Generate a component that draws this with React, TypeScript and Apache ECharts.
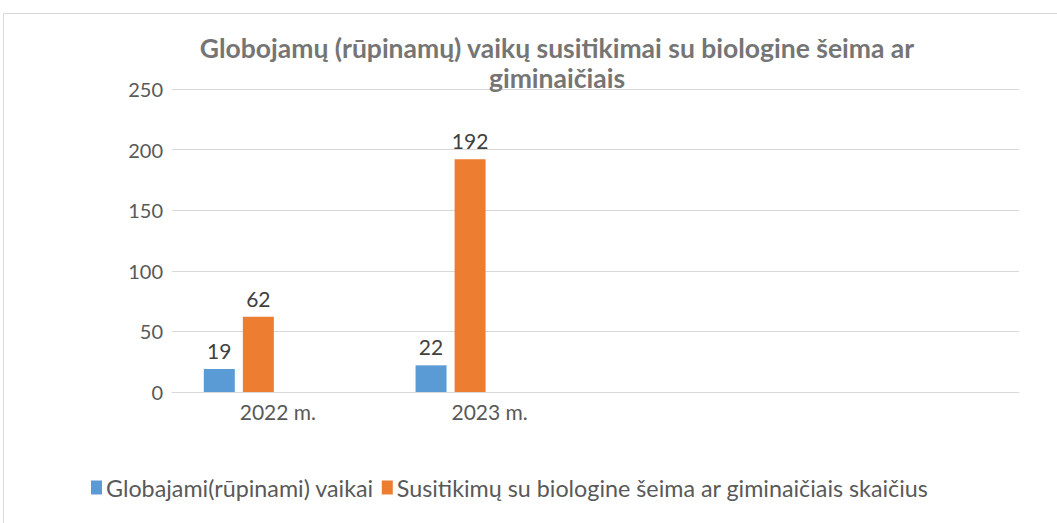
import React, { useEffect, useRef } from "react";
import * as echarts from "echarts";

const categories = ["2022 m.", "2023 m.", "", ""];
const seriesNames = ["Globajami(rūpinami) vaikai", "Susitikimų su biologine šeima ar giminaičiais skaičius"];
const childrenValues = [19, 22];
const meetingValues = [62, 192];
const yTicks = [0, 50, 100, 150, 200, 250];

export default function App() {
  const ref = useRef<HTMLDivElement>(null);
  useEffect(() => {
    if (!ref.current) return;
    const chart = echarts.init(ref.current, null, { renderer: "svg" });
    const font = "Lato, Carlito, 'Liberation Sans', sans-serif";
    const labelStyle = {
      show: true,
      position: "top" as const,
      fontFamily: font,
      fontSize: 21,
      color: "#404040",
      distance: 8,
    };
    chart.setOption({
      animation: false,
      backgroundColor: "#ffffff",
      title: {
        text: "Globojamų (rūpinamų) vaikų susitikimai su biologine šeima ar\ngiminaičiais",
        left: 552,
        top: 28,
        textAlign: "center",
        textStyle: {
          fontFamily: font,
          fontSize: 26.5,
          fontWeight: "bold",
          color: "#757575",
          lineHeight: 30,
        },
      },
      graphic: [
        {
          type: "rect",
          shape: { x: 3.5, y: 13.5, width: 1100, height: 600 },
          style: { fill: "none", stroke: "#d9d9d9", lineWidth: 1 },
          silent: true,
        },
      ],
      legend: {
        data: seriesNames,
        left: 91,
        top: 476,
        padding: 0,
        itemWidth: 11,
        itemHeight: 14,
        itemGap: 8,
        icon: "rect",
        textStyle: { fontFamily: font, fontSize: 23.3, color: "#595959", padding: [0, 0, 0, -1] },
      },
      grid: { left: 172, right: 38, top: 89, bottom: 131, containLabel: false },
      xAxis: {
        type: "category",
        data: categories,
        axisLine: { show: true, lineStyle: { color: "#d9d9d9", width: 1 } },
        axisTick: { show: false },
        axisLabel: { fontFamily: font, fontSize: 21, color: "#595959", margin: 9, interval: 0 },
      },
      yAxis: {
        type: "value",
        min: 0,
        max: 250,
        interval: 50,
        axisLine: { show: false },
        axisTick: { show: false },
        axisLabel: {
          fontFamily: font,
          fontSize: 20,
          color: "#595959",
          margin: 9,
          formatter: (v: number) => (yTicks.includes(v) ? String(v) : ""),
        },
        splitLine: { lineStyle: { color: "#d9d9d9", width: 1 } },
      },
      series: [
        {
          name: seriesNames[0],
          type: "bar",
          data: childrenValues,
          itemStyle: { color: "#5b9bd5" },
          barWidth: 31,
          barGap: "26%",
          label: labelStyle,
        },
        {
          name: seriesNames[1],
          type: "bar",
          data: meetingValues,
          itemStyle: { color: "#ed7d31" },
          barWidth: 31,
          barGap: "26%",
          label: labelStyle,
        },
        { name: "s3", type: "bar", data: [], barWidth: 31, barGap: "26%" },
        { name: "s4", type: "bar", data: [], barWidth: 31, barGap: "26%" },
      ],
    });
    return () => chart.dispose();
  }, []);
  return (
    <div
      ref={ref}
      style={{ position: "absolute", left: 0, top: 0, width: 1057, height: 523 }}
    />
  );
}
